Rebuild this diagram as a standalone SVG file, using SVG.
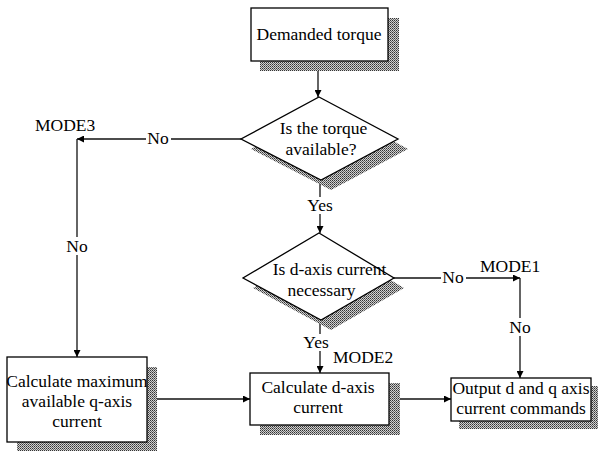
<svg xmlns="http://www.w3.org/2000/svg" width="598" height="451" viewBox="0 0 598 451">
<defs>
<pattern id="dots" width="2" height="2" patternUnits="userSpaceOnUse">
<rect width="2" height="2" fill="#d0d0d0"/>
<rect width="1" height="1" fill="#333"/>
<rect x="1" y="1" width="1" height="1" fill="#666"/>
</pattern>
<marker id="arr" viewBox="0 0 10 10" refX="10" refY="5" markerWidth="7" markerHeight="7" markerUnits="userSpaceOnUse" orient="auto">
<path d="M0,0 L10,5 L0,10 z" fill="#000"/>
</marker>
</defs>
<style>
.box{fill:#fff;stroke:#000;stroke-width:1.3}
.sh{fill:url(#dots);stroke:none}
.t{font-family:"Liberation Serif","Times New Roman",serif;font-size:17.5px;fill:#000;text-anchor:middle}
.tl{font-family:"Liberation Serif","Times New Roman",serif;font-size:17.5px;fill:#000}
.c{fill:none;stroke:#111;stroke-width:1.3}
.bg{fill:#fff}
</style>
<rect width="598" height="451" fill="#fff"/>

<g id="connectors">
<path class="c" d="M318,61 V97" marker-end="url(#arr)"/>
<path class="c" d="M241,139 H77" marker-end="url(#arr)"/>
<path class="c" d="M77,139 V357" marker-end="url(#arr)"/>
<path class="c" d="M320,180 V233" marker-end="url(#arr)"/>
<path class="c" d="M394,278 H520" marker-end="url(#arr)"/>
<path class="c" d="M520,278 V378" marker-end="url(#arr)"/>
<path class="c" d="M320,320 V373" marker-end="url(#arr)"/>
<path class="c" d="M147,399 H250" marker-end="url(#arr)"/>
<path class="c" d="M389,399 H451" marker-end="url(#arr)"/>
<rect class="bg" x="146" y="130" width="25" height="17"/>
<text class="t" x="158" y="144">No</text>
<rect class="bg" x="65" y="237" width="25" height="18"/>
<text class="t" x="77" y="252">No</text>
<rect class="bg" x="305" y="197" width="30" height="17"/>
<text class="t" x="320" y="211">Yes</text>
<rect class="bg" x="441" y="270" width="25" height="16"/>
<text class="t" x="453" y="283">No</text>
<rect class="bg" x="508" y="318" width="25" height="18"/>
<text class="t" x="520" y="333">No</text>
<rect class="bg" x="301" y="334" width="30" height="17"/>
<text class="t" x="316" y="348">Yes</text>
<text class="tl" x="35" y="131">MODE3</text>
<text class="tl" x="480" y="272">MODE1</text>
<text class="tl" x="333" y="363">MODE2</text>
</g>

<g id="demanded">
<rect class="sh" x="260" y="18" width="139" height="53"/>
<rect class="box" x="251" y="8" width="137" height="53"/>
<text class="t" x="319" y="40">Demanded torque</text>
</g>

<g id="torque-available">
<path class="sh" d="M330,107 L408,149 L331,190 L251,149 z"/>
<path class="box" d="M319,97 L398,139 L321,180 L241,139 z"/>
<text class="t" x="323.5" y="134">Is the torque</text>
<text class="t" x="321" y="155">available?</text>
</g>

<g id="daxis-necessary">
<path class="sh" d="M329,243 L404,288 L331,330 L253,288 z"/>
<path class="box" d="M319,233 L394,278 L321,320 L243,278 z"/>
<text class="t" x="329.5" y="275">Is d-axis current</text>
<text class="t" x="321.5" y="296">necessary</text>
</g>

<g id="calc-max-q">
<rect class="sh" x="17" y="367" width="140" height="85"/>
<rect class="box" x="7" y="357" width="140" height="85"/>
<text class="t" x="77" y="387">Calculate maximum</text>
<text class="t" x="77" y="407">available q-axis</text>
<text class="t" x="77" y="427">current</text>
</g>

<g id="calc-d">
<rect class="sh" x="260" y="383" width="140" height="52"/>
<rect class="box" x="250" y="373" width="139" height="52"/>
<text class="t" x="318" y="393">Calculate d-axis</text>
<text class="t" x="318" y="413">current</text>
</g>

<g id="output">
<rect class="sh" x="459" y="386" width="140" height="43"/>
<rect class="box" x="451" y="378" width="140" height="43"/>
<text class="t" x="521" y="394">Output d and q axis</text>
<text class="t" x="521" y="414">current commands</text>
</g>
</svg>
